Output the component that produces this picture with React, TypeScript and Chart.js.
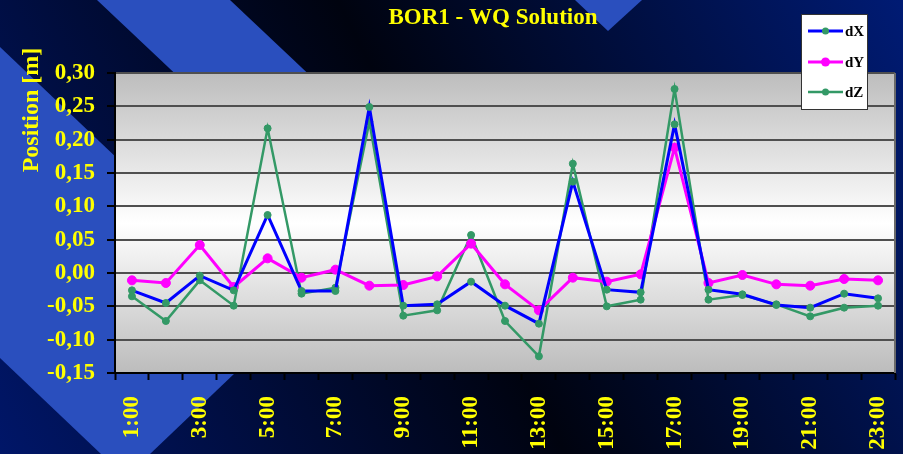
import React, { useEffect, useRef } from "react";
import { Chart, registerables } from "chart.js";

Chart.register(...registerables);

const categories = [
  "1:00", "2:00", "3:00", "4:00", "5:00", "6:00", "7:00", "8:00", "9:00", "10:00", "11:00", "12:00",
  "13:00", "14:00", "15:00", "16:00", "17:00", "18:00", "19:00", "20:00", "21:00", "22:00", "23:00",
];

const dX = [
  -0.026, -0.045, -0.004, -0.026, 0.087, -0.027, -0.027, 0.249, -0.049, -0.047, -0.013, -0.049,
  -0.076, 0.137, -0.025, -0.029, 0.223, -0.025, -0.032, -0.048, -0.052, -0.031, -0.038,
];
const dY = [
  -0.011, -0.015, 0.042, -0.021, 0.022, -0.007, 0.005, -0.019, -0.018, -0.005, 0.044, -0.017,
  -0.056, -0.007, -0.013, -0.002, 0.188, -0.015, -0.003, -0.017, -0.019, -0.009, -0.011,
];
const dZ = [
  -0.035, -0.072, -0.011, -0.049, 0.217, -0.031, -0.022, 0.227, -0.064, -0.056, 0.057, -0.072,
  -0.125, 0.164, -0.05, -0.04, 0.276, -0.04, -0.033, -0.047, -0.065, -0.052, -0.049,
];

const titleText = "BOR1 - WQ Solution";
const yAxisTitle = "Position [m]";
const yMin = -0.15;
const yMax = 0.3;
const yStep = 0.05;

const SERIF = "'Liberation Serif', 'Times New Roman', serif";
const YELLOW = "#ffff00";
const BLUE_STRIPE = "#2a4fbe";

const backgroundPlugin = {
  id: "pageBackground",
  beforeDraw(chart: any) {
    const { ctx, width, height, chartArea } = chart;
    ctx.save();
    const g = ctx.createLinearGradient(0, height, width, 0);
    g.addColorStop(0, "#001668");
    g.addColorStop(0.5, "#00030f");
    g.addColorStop(1, "#001b74");
    ctx.fillStyle = g;
    ctx.fillRect(0, 0, width, height);

    ctx.fillStyle = BLUE_STRIPE;
    // upper stripe
    ctx.beginPath();
    ctx.moveTo(97, 0);
    ctx.lineTo(230, 0);
    ctx.lineTo(230 + 250 * 1.06, 250);
    ctx.lineTo(97 + 250 * 1.06, 250);
    ctx.closePath();
    ctx.fill();
    // lower-left band
    ctx.beginPath();
    ctx.moveTo(0, 47);
    ctx.lineTo(289, 47 + 289 * 0.95);
    ctx.lineTo(150, 454);
    ctx.lineTo(101, 454);
    ctx.lineTo(0, 358);
    ctx.closePath();
    ctx.fill();
    // top-right triangle
    ctx.beginPath();
    ctx.moveTo(575, 0);
    ctx.lineTo(642, 0);
    ctx.lineTo(608, 31);
    ctx.closePath();
    ctx.fill();

    // plot area gradient
    const { left, right, top, bottom } = chartArea;
    const pg = ctx.createLinearGradient(0, top, 0, bottom);
    pg.addColorStop(0, "#bdbdbd");
    pg.addColorStop(0.5, "#ffffff");
    pg.addColorStop(1, "#bcbcbc");
    ctx.fillStyle = pg;
    ctx.fillRect(left, top, right - left, bottom - top);
    ctx.restore();
  },
  afterDraw(chart: any) {
    const { ctx, chartArea } = chart;
    ctx.save();
    // right border of plot area
    ctx.strokeStyle = "#6a6a6a";
    ctx.lineWidth = 2;
    ctx.beginPath();
    ctx.moveTo(chartArea.right, chartArea.top);
    ctx.lineTo(chartArea.right, chartArea.bottom);
    ctx.stroke();

    // title
    ctx.fillStyle = YELLOW;
    ctx.font = `bold 23px ${SERIF}`;
    ctx.textAlign = "center";
    ctx.textBaseline = "middle";
    ctx.fillText(titleText, 493, 18);

    // y axis title
    ctx.save();
    ctx.translate(32, 110);
    ctx.rotate(-Math.PI / 2);
    ctx.font = `bold 24px ${SERIF}`;
    ctx.fillText(yAxisTitle, 0, 0);
    ctx.restore();

    // legend
    const lx = 801, ly = 14, lw = 67, lh = 96;
    ctx.fillStyle = "#ffffff";
    ctx.fillRect(lx, ly, lw, lh);
    ctx.strokeStyle = "#333333";
    ctx.lineWidth = 1;
    ctx.strokeRect(lx + 0.5, ly + 0.5, lw - 1, lh - 1);
    const rows = [31, 62, 92];
    chart.data.datasets.forEach((ds: any, i: number) => {
      const y = rows[i];
      ctx.strokeStyle = ds.borderColor;
      ctx.lineWidth = ds.borderWidth;
      ctx.beginPath();
      ctx.moveTo(808, y);
      ctx.lineTo(843, y);
      ctx.stroke();
      ctx.fillStyle = ds.pointBackgroundColor;
      ctx.beginPath();
      ctx.arc(825.5, y, ds.pointRadius, 0, Math.PI * 2);
      ctx.fill();
      ctx.fillStyle = "#000000";
      ctx.font = `bold 15px ${SERIF}`;
      ctx.textAlign = "left";
      ctx.textBaseline = "middle";
      ctx.fillText(ds.label, 845, y + 1);
    });
    ctx.restore();
  },
};

export default function App() {
  const canvasRef = useRef<HTMLCanvasElement | null>(null);

  useEffect(() => {
    document.body.style.margin = "0";
    document.body.style.overflow = "hidden";
    const canvas = canvasRef.current;
    if (!canvas) return;
    const chart = new Chart(canvas, {
      type: "line",
      data: {
        labels: categories,
        datasets: [
          {
            label: "dX",
            data: dX,
            borderColor: "#0000ff",
            borderWidth: 3,
            pointBackgroundColor: "#339966",
            pointBorderColor: "#339966",
            pointBorderWidth: 1,
            pointRadius: 3.5,
            tension: 0,
          },
          {
            label: "dY",
            data: dY,
            borderColor: "#ff00ff",
            borderWidth: 3,
            pointBackgroundColor: "#ff00ff",
            pointBorderColor: "#ff00ff",
            pointBorderWidth: 1,
            pointRadius: 4.5,
            tension: 0,
          },
          {
            label: "dZ",
            data: dZ,
            borderColor: "#339966",
            borderWidth: 2.5,
            pointBackgroundColor: "#339966",
            pointBorderColor: "#339966",
            pointBorderWidth: 1,
            pointRadius: 3.5,
            tension: 0,
          },
        ],
      },
      options: {
        animation: false,
        responsive: false,
        maintainAspectRatio: false,
        layout: { padding: { left: 0, right: 8, top: 73, bottom: 0 } },
        plugins: {
          legend: { display: false },
          title: { display: false },
          tooltip: { enabled: false },
        },
        scales: {
          x: {
            type: "category",
            offset: true,
            ticks: {
              autoSkip: false,
              minRotation: 90,
              maxRotation: 90,
              padding: 16,
              color: YELLOW,
              font: { family: SERIF, weight: "bold", size: 23 },
              callback: function (this: any, value: any, index: number) {
                return index % 2 === 0 ? this.getLabelForValue(value) : "";
              },
            },
            grid: {
              offset: true,
              drawOnChartArea: false,
              tickLength: 7,
              tickColor: "#000000",
              tickWidth: 2,
              color: "#000000",
            },
            border: { color: "#000000", width: 2 },
            afterFit: (s: any) => {
              s.height = 81;
              s.paddingLeft = 0;
              s.paddingRight = 0;
            },
          },
          y: {
            min: yMin,
            max: yMax,
            ticks: {
              stepSize: yStep,
              padding: 12,
              color: YELLOW,
              font: { family: SERIF, weight: "bold", size: 23 },
              callback: (v: any) => {
                const n = Math.abs(Number(v)) < 1e-9 ? 0 : Number(v);
                return n.toFixed(2).replace(".", ",");
              },
            },
            grid: {
              color: "#4f4f4f",
              lineWidth: 2,
              tickLength: 8,
              tickColor: "#000000",
              tickWidth: 2,
            },
            border: { color: "#000000", width: 2 },
            afterFit: (s: any) => {
              s.width = 115;
              s.paddingTop = 0;
              s.paddingBottom = 0;
            },
          },
        },
      },
      plugins: [backgroundPlugin],
    });
    return () => chart.destroy();
  }, []);

  return (
    <div style={{ width: 903, height: 454 }}>
      <canvas ref={canvasRef} width={903} height={454} style={{ display: "block" }} />
    </div>
  );
}
